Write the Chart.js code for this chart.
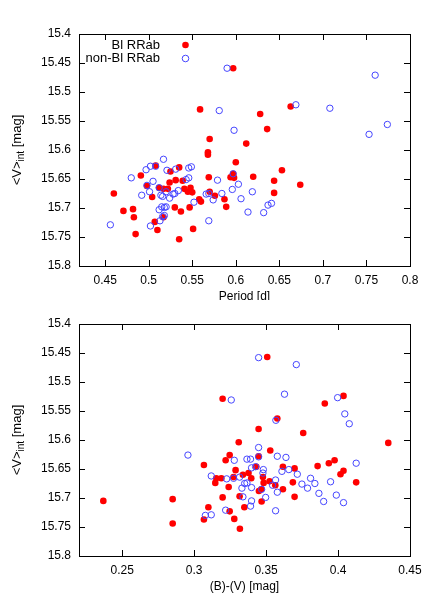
<!DOCTYPE html>
<html>
<head>
<meta charset="utf-8">
<script src="https://cdn.jsdelivr.net/npm/chart.js@4.4.0/dist/chart.umd.min.js"></script>
<style>
  body { margin: 0; background: #fff; }
  #wrap { position: relative; width: 436px; height: 602px; }
  canvas { position: absolute; left: 0; }
</style>
</head>
<body>
<div id="wrap">
  <canvas id="periodChart" style="top:0;width:436px;height:300px"></canvas>
  <canvas id="colorChart" style="top:300px;width:436px;height:302px"></canvas>
</div>
<script>
// Top panel: period vs mean magnitude
const blPeriod = [0.597, 0.559, 0.570, 0.663, 0.628, 0.636, 0.612, 0.600, 0.597, 0.594, 0.598, 0.653, 0.620, 0.644,
  0.674, 0.644, 0.568, 0.568, 0.508, 0.525, 0.535, 0.491, 0.524, 0.531, 0.539, 0.569, 0.498, 0.460, 0.504, 0.512,
  0.517, 0.522, 0.541, 0.545, 0.550, 0.548, 0.576, 0.587, 0.558, 0.560, 0.530, 0.537, 0.547, 0.471, 0.482, 0.483,
  0.517, 0.507, 0.510, 0.551, 0.485, 0.535, 0.589, 0.570];
const blVmagTop = [15.459, 15.530, 15.581, 15.525, 15.538, 15.564, 15.589, 15.621, 15.641, 15.647, 15.648, 15.635, 15.646, 15.653,
  15.660, 15.674, 15.604, 15.608, 15.627, 15.637, 15.630, 15.644, 15.656, 15.652, 15.653, 15.647, 15.662, 15.675, 15.681, 15.665,
  15.667, 15.667, 15.667, 15.672, 15.673, 15.665, 15.679, 15.685, 15.685, 15.689, 15.699, 15.706, 15.699, 15.705, 15.702, 15.716,
  15.716, 15.724, 15.738, 15.736, 15.745, 15.754, 15.698, 15.672];
const nonBlPeriod = [0.590, 0.581, 0.598, 0.760, 0.669, 0.708, 0.774, 0.753, 0.597, 0.603, 0.596, 0.619, 0.606, 0.641,
  0.637, 0.614, 0.632, 0.517, 0.502, 0.508, 0.497, 0.521, 0.531, 0.546, 0.549, 0.480, 0.505, 0.543, 0.546, 0.579,
  0.501, 0.492, 0.514, 0.516, 0.520, 0.528, 0.530, 0.534, 0.524, 0.566, 0.569, 0.584, 0.552, 0.512, 0.515, 0.518,
  0.520, 0.516, 0.518, 0.513, 0.502, 0.569, 0.456, 0.498, 0.574, 0.512];
const nonBlVmagTop = [15.459, 15.532, 15.566, 15.471, 15.522, 15.528, 15.556, 15.573, 15.641, 15.659, 15.668, 15.672, 15.684, 15.692,
  15.695, 15.707, 15.708, 15.616, 15.628, 15.628, 15.634, 15.635, 15.633, 15.631, 15.629, 15.648, 15.654, 15.651, 15.648, 15.652,
  15.672, 15.678, 15.678, 15.680, 15.672, 15.676, 15.675, 15.670, 15.683, 15.676, 15.675, 15.675, 15.690, 15.703, 15.698, 15.699,
  15.698, 15.715, 15.713, 15.722, 15.731, 15.722, 15.729, 15.661, 15.686, 15.665];

// Bottom panel: colour index vs mean magnitude
const blColor = [0.3198, 0.3310, 0.3508, 0.3578, 0.3448, 0.3758, 0.3529, 0.3908, 0.4038, 0.4349, 0.3617, 0.3698, 0.3858,
  0.3936, 0.3976, 0.4038, 0.4017, 0.4126, 0.3686, 0.3524, 0.3564, 0.3617, 0.3698, 0.3247, 0.3448, 0.3432, 0.3288,
  0.3339, 0.3378, 0.3397, 0.3478, 0.3483, 0.3467, 0.3450, 0.3316, 0.3349, 0.3469, 0.3247, 0.3279, 0.3318, 0.3219,
  0.3068, 0.3154, 0.3189, 0.3147, 0.3240, 0.3198, 0.2851, 0.2369, 0.3099, 0.3068, 0.2851, 0.3274];
const blVmagBottom = [15.529, 15.604, 15.457, 15.563, 15.581, 15.588, 15.618, 15.537, 15.524, 15.605, 15.646, 15.649, 15.645,
  15.640, 15.635, 15.653, 15.659, 15.673, 15.673, 15.671, 15.678, 15.685, 15.698, 15.626, 15.628, 15.646, 15.652,
  15.660, 15.657, 15.666, 15.664, 15.674, 15.685, 15.688, 15.697, 15.716, 15.706, 15.723, 15.736, 15.753, 15.635,
  15.643, 15.666, 15.666, 15.674, 15.681, 15.699, 15.702, 15.705, 15.716, 15.737, 15.744, 15.664];
const nonBlColor = [0.3258, 0.3448, 0.3710, 0.3628, 0.3568, 0.3448, 0.3997, 0.4047, 0.4078, 0.3578, 0.3638, 0.3610, 0.3658,
  0.3717, 0.4126, 0.3809, 0.3839, 0.3788, 0.3749, 0.3948, 0.3566, 0.3578, 0.3545, 0.3867, 0.3900, 0.3988, 0.4038,
  0.3279, 0.3367, 0.3392, 0.3448, 0.3399, 0.3427, 0.3481, 0.3478, 0.3274, 0.3316, 0.3351, 0.3332, 0.3367, 0.3399,
  0.3469, 0.3497, 0.3339, 0.3399, 0.3392, 0.3566, 0.2957, 0.3119, 0.3226, 0.3219, 0.3078, 0.3119];
const nonBlVmagBottom = [15.531, 15.458, 15.470, 15.521, 15.566, 15.613, 15.527, 15.555, 15.572, 15.628, 15.630, 15.654, 15.651,
  15.659, 15.640, 15.666, 15.675, 15.683, 15.676, 15.672, 15.669, 15.690, 15.678, 15.692, 15.706, 15.695, 15.708,
  15.635, 15.633, 15.633, 15.629, 15.648, 15.646, 15.651, 15.657, 15.666, 15.664, 15.675, 15.683, 15.674, 15.682,
  15.685, 15.699, 15.698, 15.705, 15.714, 15.722, 15.626, 15.662, 15.667, 15.721, 15.730, 15.729];

// tick labels
const vmagTicks = [15.4, 15.45, 15.5, 15.55, 15.6, 15.65, 15.7, 15.75, 15.8];
const periodTicks = [0.45, 0.5, 0.55, 0.6, 0.65, 0.7, 0.75, 0.8];
const colorTicks = [0.25, 0.3, 0.35, 0.4, 0.45];

const seriesNames = ['Bl RRab', 'non-Bl RRab'];
const RED = '#ff0000';
const BLUE = '#4545ff';
const FONT = "'Liberation Sans', Arial, sans-serif";

const pts = (xs, ys) => xs.map((x, i) => ({x: x, y: ys[i]}));
const fmt = v => String(+v.toFixed(2));

// inward ticks on all four sides plus the frame, gnuplot style
const framePlugin = {
  id: 'frame',
  afterDraw(chart) {
    const {ctx, chartArea: a, scales: {x, y}} = chart;
    ctx.save();
    ctx.strokeStyle = '#000';
    ctx.lineWidth = 1;
    ctx.beginPath();
    x.ticks.forEach(t => {
      const px = Math.round(x.getPixelForValue(t.value)) + 0.5;
      ctx.moveTo(px, a.bottom); ctx.lineTo(px, a.bottom - 6);
      ctx.moveTo(px, a.top); ctx.lineTo(px, a.top + 6);
    });
    y.ticks.forEach(t => {
      const py = Math.round(y.getPixelForValue(t.value)) + 0.5;
      ctx.moveTo(a.left, py); ctx.lineTo(a.left + 6, py);
      ctx.moveTo(a.right, py); ctx.lineTo(a.right - 6, py);
    });
    ctx.stroke();
    ctx.strokeRect(Math.round(a.left) + 0.5, Math.round(a.top) + 0.5, Math.round(a.width), Math.round(a.height));
    ctx.restore();
  }
};

// axis titles (the y title has a subscript)
const titlePlugin = {
  id: 'titles',
  afterDraw(chart, args, opts) {
    const {ctx, chartArea: a} = chart;
    ctx.save();
    ctx.fillStyle = '#000';
    ctx.textBaseline = 'middle';
    ctx.font = '12px ' + FONT;
    ctx.textAlign = 'center';
    ctx.fillText(opts.xTitle, (a.left + a.right) / 2, opts.xTitleY);

    // y title rotated
    const main1 = '<V>', sub = 'int', main2 = ' [mag]';
    const mainFont = '13px ' + FONT, subFont = '10px ' + FONT;
    ctx.font = mainFont;
    const w1 = ctx.measureText(main1).width, w3 = ctx.measureText(main2).width;
    ctx.font = subFont;
    const w2 = ctx.measureText(sub).width;
    const total = w1 + w2 + w3;
    ctx.translate(17, (a.top + a.bottom) / 2);
    ctx.rotate(-Math.PI / 2);
    ctx.textAlign = 'left';
    let sx = -total / 2;
    ctx.font = mainFont;
    ctx.fillText(main1, sx, 0);
    sx += w1;
    ctx.font = subFont;
    ctx.fillText(sub, sx, 4);
    sx += w2;
    ctx.font = mainFont;
    ctx.fillText(main2, sx, 0);
    ctx.restore();
  }
};

// gnuplot-like key: right-aligned text, marker to the right
const keyPlugin = {
  id: 'key',
  afterDraw(chart, args, opts) {
    if (!opts.show) return;
    const {ctx} = chart;
    ctx.save();
    ctx.font = '13px ' + FONT;
    ctx.textAlign = 'right';
    ctx.textBaseline = 'middle';
    ctx.fillStyle = '#000';
    seriesNames.forEach((name, i) => {
      const ty = 45 + i * 13.5;
      ctx.fillText(name, 160, ty);
      ctx.beginPath();
      ctx.arc(185.5, ty, 3.3, 0, Math.PI * 2);
      if (i === 0) { ctx.fillStyle = RED; ctx.fill(); ctx.fillStyle = '#000'; }
      else { ctx.strokeStyle = BLUE; ctx.lineWidth = 1; ctx.stroke(); }
    });
    ctx.restore();
  }
};

function makeChart(id, canvasH, padTop, xMin, xMax, xTicks, blData, nonBlData, xTitle, xTitleY, showKey) {
  const el = document.getElementById(id);
  el.width = 436; el.height = canvasH;
  return new Chart(el, {
    type: 'scatter',
    data: {
      datasets: [
        {label: seriesNames[1], data: nonBlData, order: 0, pointStyle: 'circle', pointRadius: 3.2,
          backgroundColor: 'rgba(0,0,0,0)', borderColor: BLUE, borderWidth: 1, pointHoverRadius: 3.2},
        {label: seriesNames[0], data: blData, order: 1, pointStyle: 'circle', pointRadius: 3.3,
          backgroundColor: RED, borderColor: RED, borderWidth: 0, pointHoverRadius: 3.3}
      ]
    },
    options: {
      responsive: false,
      animation: false,
      events: [],
      layout: {padding: {left: 0, right: 26, top: padTop, bottom: 0}},
      plugins: {
        legend: {display: false},
        tooltip: {enabled: false},
        titles: {xTitle: xTitle, xTitleY: xTitleY},
        key: {show: showKey}
      },
      scales: {
        x: {
          type: 'linear', min: xMin, max: xMax,
          afterBuildTicks: s => { s.ticks = xTicks.map(v => ({value: v})); },
          afterFit: s => { s.height = canvasH - padTop - 232; },
          grid: {display: false, drawTicks: false},
          border: {display: false},
          ticks: {padding: 7, color: '#000', font: {family: FONT, size: 12}, callback: fmt, autoSkip: false, maxRotation: 0}
        },
        y: {
          type: 'linear', min: 15.4, max: 15.8, reverse: true,
          afterBuildTicks: s => { s.ticks = vmagTicks.map(v => ({value: v})); },
          afterFit: s => { s.width = 79; },
          grid: {display: false, drawTicks: false},
          border: {display: false},
          ticks: {padding: 8, color: '#000', font: {family: FONT, size: 12}, callback: fmt, autoSkip: false}
        }
      }
    },
    plugins: [framePlugin, titlePlugin, keyPlugin]
  });
}

makeChart('periodChart', 300, 34, 0.42, 0.8, periodTicks,
  pts(blPeriod, blVmagTop), pts(nonBlPeriod, nonBlVmagTop), 'Period [d]', 297, true);
makeChart('colorChart', 302, 24, 0.22, 0.45, colorTicks,
  pts(blColor, blVmagBottom), pts(nonBlColor, nonBlVmagBottom), '(B)-(V) [mag]', 287, false);
</script>
</body>
</html>
